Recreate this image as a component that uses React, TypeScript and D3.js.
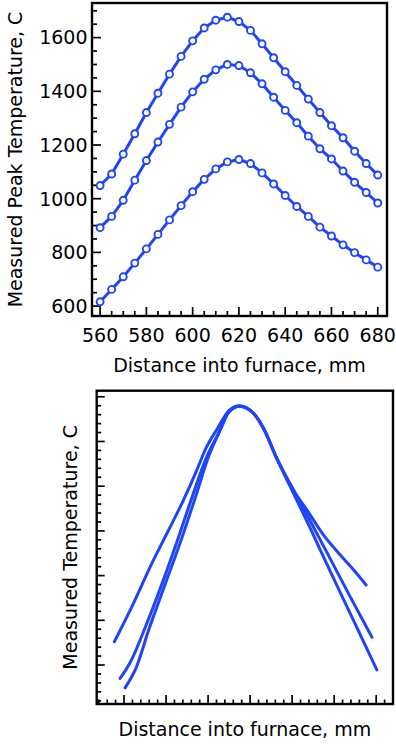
import * as d3 from "d3";

// top panel: peak temperature vs distance, three runs
const distances = [560, 565, 570, 575, 580, 585, 590, 595, 600, 605, 610, 615, 620, 625, 630, 635, 640, 645, 650, 655, 660, 665, 670, 675, 680];
const peakHigh = [1049, 1092, 1166, 1242, 1321, 1393, 1464, 1530, 1588, 1636, 1665, 1676, 1660, 1627, 1577, 1525, 1473, 1422, 1371, 1321, 1272, 1227, 1177, 1131, 1088];
const peakMid = [892, 934, 994, 1069, 1142, 1211, 1277, 1341, 1398, 1445, 1480, 1500, 1496, 1469, 1428, 1378, 1329, 1283, 1233, 1186, 1148, 1103, 1061, 1023, 984];
const peakLow = [616, 662, 709, 760, 813, 867, 921, 974, 1026, 1072, 1111, 1137, 1146, 1131, 1096, 1055, 1012, 971, 934, 894, 861, 828, 799, 772, 745];
const topXTicks = [560, 580, 600, 620, 640, 660, 680];
const topYTicks = [600, 800, 1000, 1200, 1400, 1600];

// bottom panel: unlabeled temperature profiles
const profileAx = [555.4, 564.1, 572.9, 580.8, 587.9, 594.3, 599.0, 604.6, 610.1, 614.9, 621.6, 626.3, 632.7, 639.0, 647.0, 654.9, 662.9, 669.2, 675.2];
const profileAy = [152, 234, 324, 398, 465, 532, 585, 630, 670, 680, 663, 630, 562, 503, 447, 391, 346, 313, 279];
const profileBx = [558.1, 563.3, 570.5, 578.4, 586.3, 592.7, 599.0, 605.4, 610.1, 615.0, 621.6, 626.3, 632.7, 639.0, 648.6, 658.1, 667.6, 678.0];
const profileBy = [70, 109, 189, 286, 391, 480, 562, 622, 667, 679, 663, 630, 562, 506, 422, 338, 253, 162];
const profileCx = [560.5, 565.7, 572.0, 580.0, 588.0, 594.3, 599.9, 605.4, 610.1, 615.0, 621.6, 626.3, 632.7, 639.0, 648.6, 658.1, 670.0, 680.3];
const profileCy = [49, 93, 182, 286, 391, 480, 562, 622, 667, 679, 663, 630, 562, 500, 406, 310, 192, 89];
const bottomXTicks = [560, 580, 600, 620, 640, 660, 680];
const bottomYTicks = [100, 200, 300, 400, 500, 600, 700];

const BLUE = "#1f45f8";
const FONT = "DejaVu Sans, sans-serif";

type Pt = [number, number];

export default function App() {
  // top chart scales
  const x = d3.scaleLinear().domain([556.5, 684]).range([92, 387]);
  const y = d3.scaleLinear().domain([563, 1729]).range([316, 3]);
  const line = d3.line<Pt>().x(d => x(d[0])).y(d => y(d[1]));
  const series = [peakHigh, peakMid, peakLow].map(vals => distances.map((d, i) => [d, vals[i]] as Pt));

  const xMinor = d3.range(560, 684, 5).filter(v => !topXTicks.includes(v));
  const yMinor = d3.range(600, 1729, 50).filter(v => !topYTicks.includes(v));

  // bottom chart scales
  const bx = d3.scaleLinear().domain([547, 688]).range([96.7, 393]);
  const by = d3.scaleLinear().domain([12.8, 713.6]).range([704, 390.7]);
  const bline = d3.line<Pt>().x(d => bx(d[0])).y(d => by(d[1])).curve(d3.curveMonotoneX);
  const profiles = [
    profileAx.map((v, i) => [v, profileAy[i]] as Pt),
    profileBx.map((v, i) => [v, profileBy[i]] as Pt),
    profileCx.map((v, i) => [v, profileCy[i]] as Pt),
  ];
  const bxMinor = d3.range(548, 688, 4).filter(v => !bottomXTicks.includes(v));
  const byMinor = d3.range(20, 713, 20).filter(v => !bottomYTicks.includes(v));

  const [tx0, tx1] = x.range();
  const [ty0, ty1] = y.range();
  const [bx0, bx1] = bx.range();
  const [by0, by1] = by.range();

  return (
    <svg width={396} height={744} style={{ position: "absolute", left: 0, top: 0 }} fontFamily={FONT}>
      <rect width={396} height={744} fill="#fff" />

      {/* ---- top chart ---- */}
      <g stroke="#000" strokeWidth={1.7}>
        {topXTicks.map(t => <line key={"tx" + t} x1={x(t)} x2={x(t)} y1={ty0} y2={ty0 - 9} />)}
        {xMinor.map(t => <line key={"tmx" + t} x1={x(t)} x2={x(t)} y1={ty0} y2={ty0 - 5} />)}
        {topYTicks.map(t => <line key={"ty" + t} x1={tx0} x2={tx0 + 9} y1={y(t)} y2={y(t)} />)}
        {yMinor.map(t => <line key={"tmy" + t} x1={tx0} x2={tx0 + 5} y1={y(t)} y2={y(t)} />)}
      </g>
      {series.map((s, i) => (
        <g key={"s" + i}>
          <path d={line(s) ?? ""} fill="none" stroke={BLUE} strokeWidth={3} strokeLinejoin="round" />
          {s.map((p, j) => (
            <circle key={j} cx={x(p[0])} cy={y(p[1])} r={3.5} fill="#fff" stroke={BLUE} strokeWidth={1.9} />
          ))}
        </g>
      ))}
      <rect x={tx0} y={ty1} width={tx1 - tx0} height={ty0 - ty1} fill="none" stroke="#000" strokeWidth={2.4} />
      <g fontSize={19} fill="#000">
        {topYTicks.map(t => (
          <text key={"tyl" + t} x={87.5} y={y(t)} dy="0.36em" textAnchor="end">{t}</text>
        ))}
        {topXTicks.map(t => (
          <text key={"txl" + t} x={x(t)} y={341.7} textAnchor="middle">{t}</text>
        ))}
        <text x={(tx0 + tx1) / 2} y={371.8} textAnchor="middle">Distance into furnace, mm</text>
        <text transform={`translate(21.8,${(ty0 + ty1) / 2}) rotate(-90)`} textAnchor="middle">
          Measured Peak Temperature, C
        </text>
      </g>

      {/* ---- bottom chart ---- */}
      <g stroke="#000" strokeWidth={1.7}>
        {bottomXTicks.map(t => <line key={"bx" + t} x1={bx(t)} x2={bx(t)} y1={by0} y2={by0 - 9} />)}
        {bxMinor.map(t => <line key={"bmx" + t} x1={bx(t)} x2={bx(t)} y1={by0} y2={by0 - 4.5} />)}
        {bottomYTicks.map(t => <line key={"by" + t} x1={bx0} x2={bx0 + 8} y1={by(t)} y2={by(t)} />)}
        {byMinor.map(t => <line key={"bmy" + t} x1={bx0} x2={bx0 + 4.5} y1={by(t)} y2={by(t)} />)}
      </g>
      {profiles.map((p, i) => (
        <path key={"p" + i} d={bline(p) ?? ""} fill="none" stroke={BLUE} strokeWidth={3} strokeLinecap="round" strokeLinejoin="round" />
      ))}
      <rect x={bx0} y={by1} width={bx1 - bx0} height={by0 - by1} fill="none" stroke="#000" strokeWidth={2.4} />
      <g fontSize={19} fill="#000">
        <text x={(bx0 + bx1) / 2} y={736} textAnchor="middle">Distance into furnace, mm</text>
        <text transform={`translate(77,${(by0 + by1) / 2}) rotate(-90)`} textAnchor="middle">
          Measured Temperature, C
        </text>
      </g>
    </svg>
  );
}
